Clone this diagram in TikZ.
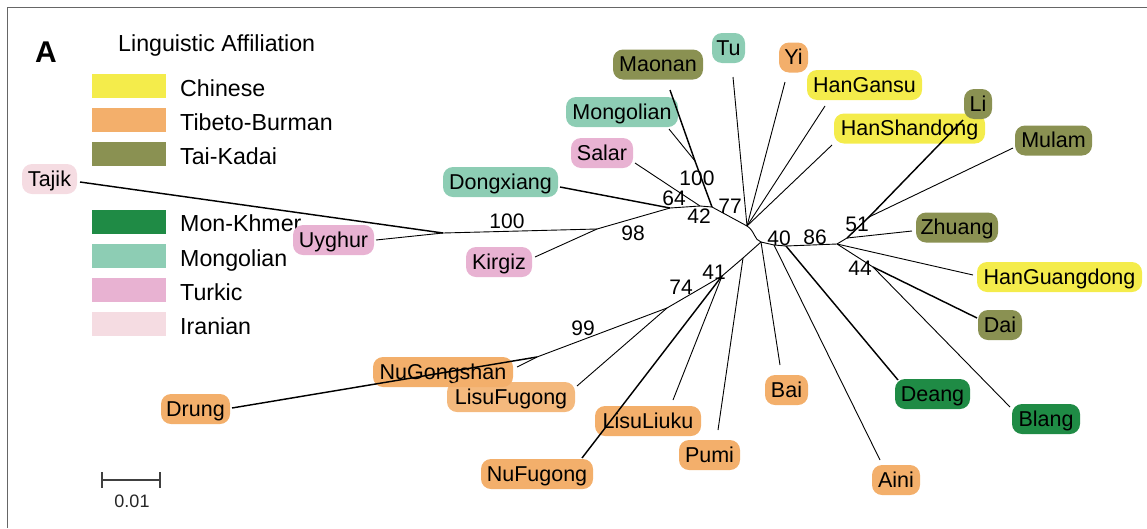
\documentclass[tikz,border=0pt]{standalone}
\usepackage{fontspec}
\usetikzlibrary{calc}
\setmainfont{Liberation Sans}
\definecolor{cCh}{HTML}{F4EC4B}
\definecolor{cTB}{HTML}{F3AF6B}
\definecolor{cTK}{HTML}{8A9152}
\definecolor{cMK}{HTML}{1F8B45}
\definecolor{cMo}{HTML}{8DCDB4}
\definecolor{cTu}{HTML}{E8B2D2}
\definecolor{cIr}{HTML}{F5DCE2}
\definecolor{frameGray}{HTML}{666666}
\newcommand\lblfont{\fontsize{21.5}{24}\selectfont}
\newcommand\bsfont{\fontsize{21}{24}\selectfont}
\newcommand\legfont{\fontsize{23.2}{26}\selectfont}
\begin{document}
\begin{tikzpicture}[x=1pt,y=-1pt,
 leaf/.style={rounded corners=10pt,minimum height=30pt,inner sep=0pt,text height=17pt,text depth=3pt,font=\lblfont},
 br/.style={line width=0.9pt},
 brt/.style={line width=1.45pt},
 bs/.style={anchor=base,font=\bsfont,inner sep=0pt},
 leg/.style={anchor=base west,font=\legfont,inner sep=0pt},
 sw/.style={minimum width=74pt,minimum height=24pt,inner sep=0pt}]
\useasboundingbox (0,0) rectangle (1147,528);
\draw[line width=1.5pt,frameGray] (7.5,528) -- (7.5,7.5) -- (1147,7.5);

% legend
\node[anchor=base west,inner sep=0pt,font=\fontsize{30}{32}\selectfont\bfseries] (lblA) at (35,62) {A};
\node[leg] (legT) at (118,51) {Linguistic Affiliation};
\node[sw,fill=cCh] (swCh) at (129,86) {};
\node[sw,fill=cTB] (swTB) at (129,120) {};
\node[sw,fill=cTK] (swTK) at (129,154) {};
\node[sw,fill=cMK] (swMK) at (129,221.5) {};
\node[sw,fill=cMo] (swMo) at (129,256) {};
\node[sw,fill=cTu] (swTu) at (129,290) {};
\node[sw,fill=cIr] (swIr) at (129,324) {};
\node[leg] (lgCh) at (180,96) {Chinese};
\node[leg] (lgTB) at (180,130) {Tibeto-Burman};
\node[leg] (lgTK) at (180,164) {Tai-Kadai};
\node[leg] (lgMK) at (180,231.5) {Mon-Khmer};
\node[leg] (lgMo) at (180,266) {Mongolian};
\node[leg] (lgTu) at (180,300) {Turkic};
\node[leg] (lgIr) at (180,334) {Iranian};

% leaves
\node[leaf,fill=cIr,minimum width=55pt] (Tajik) at (49.5,179) {Tajik};
\node[leaf,fill=cTu,minimum width=81pt] (Uyghur) at (333.5,240) {Uyghur};
\node[leaf,fill=cTu,minimum width=66pt] (Kirgiz) at (499,262) {Kirgiz};
\node[leaf,fill=cMo,minimum width=115pt] (Dongxiang) at (500.5,182) {Dongxiang};
\node[leaf,fill=cTu,minimum width=62pt] (Salar) at (602,153) {Salar};
\node[leaf,fill=cMo,minimum width=112pt] (Mongolian) at (622,112) {Mongolian};
\node[leaf,fill=cTK,minimum width=90pt] (Maonan) at (658,64.5) {Maonan};
\node[leaf,fill=cMo,minimum width=33pt] (Tu) at (728.5,48) {Tu};
\node[leaf,fill=cTB,minimum width=29pt] (Yi) at (793.5,57.5) {Yi};
\node[leaf,fill=cCh,minimum width=115pt] (HanGansu) at (864.5,85) {HanGansu};
\node[leaf,fill=cCh,minimum width=151pt] (HanShandong) at (909.5,128.5) {HanShandong};
\node[leaf,fill=cTK,minimum width=28pt] (Li) at (978,104) {Li};
\node[leaf,fill=cTK,minimum width=77pt] (Mulam) at (1053.5,140.5) {Mulam};
\node[leaf,fill=cTK,minimum width=82pt] (Zhuang) at (957,227.5) {Zhuang};
\node[leaf,fill=cCh,minimum width=165pt] (HanGuangdong) at (1059.5,277) {HanGuangdong};
\node[leaf,fill=cTK,minimum width=44pt] (Dai) at (1000,325) {Dai};
\node[leaf,fill=cMK,minimum width=68pt] (Blang) at (1046,419) {Blang};
\node[leaf,fill=cMK,minimum width=75pt] (Deang) at (932.5,394) {Deang};
\node[leaf,fill=cTB,minimum width=48pt] (Aini) at (896,480) {Aini};
\node[leaf,fill=cTB,minimum width=43pt] (Bai) at (786.5,390) {Bai};
\node[leaf,fill=cTB,minimum width=61pt] (Pumi) at (709.5,455) {Pumi};
\node[leaf,fill=cTB,minimum width=106pt] (LisuLiuku) at (648,421) {LisuLiuku};
\node[leaf,fill=cTB,minimum width=112pt] (NuFugong) at (537,474) {NuFugong};
\node[leaf,fill=cTB,minimum width=140pt] (NuGongshan) at (443,372) {NuGongshan};
\node[leaf,fill=cTB,fill opacity=0.88,text opacity=1,minimum width=128pt] (LisuFugong) at (511,397) {LisuFugong};
\node[leaf,fill=cTB,minimum width=69pt] (Drung) at (195.5,409) {Drung};

% tips
\coordinate (tTajik) at (80,182);
\coordinate (tUyghur) at (376,240);
\coordinate (tKirgiz) at (535,257);
\coordinate (tDongxiang) at (560,187);
\coordinate (tSalar) at (635,163);
\coordinate (tMongolian) at (669,129);
\coordinate (tMaonan) at (670,90);
\coordinate (tTu) at (733,77);
\coordinate (tYi) at (785,82);
\coordinate (tHanGansu) at (825,106);
\coordinate (tHanShandong) at (832,145);
\coordinate (tLi) at (963,120);
\coordinate (tMulam) at (1013,148);
\coordinate (tZhuang) at (912,231);
\coordinate (tHanGuangdong) at (973,275);
\coordinate (tDai) at (977,318);
\coordinate (tBlang) at (1010,407);
\coordinate (tDeang) at (898,380);
\coordinate (tAini) at (880,460);
\coordinate (tBai) at (780,365);
\coordinate (tPumi) at (718,430);
\coordinate (tLisuLiuku) at (673,400);
\coordinate (tNuFugong) at (582,458);
\coordinate (tLisuFugong) at (577,386);
\coordinate (tNuGongshan) at (517,367);
\coordinate (tDrung) at (232,408);

% internal nodes
\coordinate (nTU) at (443,233);
\coordinate (K) at (597,229);
\coordinate (D) at (670,208);
\coordinate (S) at (700,206);
\coordinate (M) at (712,207);
\coordinate (MM) at (695,161);
\coordinate (C1) at (747,226);
\coordinate (C2) at (761,242);
\coordinate (nA) at (774,245);
\coordinate (nD) at (786,246);
\coordinate (R) at (837,244);
\coordinate (n51) at (847,238);
\coordinate (nLM) at (869,217);
\coordinate (n44) at (873,267);
\coordinate (P) at (743,258);
\coordinate (n41) at (722,276);
\coordinate (n74) at (667,308);
\coordinate (n99) at (537,357);

% branches
\draw[brt] (nTU) -- (tTajik);
\draw[br] (nTU) -- (tUyghur);
\draw[br] (nTU) -- (K);
\draw[br] (K) -- (tKirgiz);
\draw[br] (K) -- (D);
\draw[brt] (D) -- (tDongxiang);
\draw[br] (D) -- (S) -- (M);
\draw[br] (S) -- (tSalar);
\draw[brt] (M) -- (MM) -- (tMaonan);
\draw[br] (MM) -- (tMongolian);
\draw[br] (M) -- (C1);
\draw[br] (C1) -- (tTu);
\draw[br] (C1) -- (tYi);
\draw[br] (C1) -- (tHanGansu);
\draw[br] (C1) -- (tHanShandong);
\draw[br] (C1) .. controls (755,231) and (754,240) .. (C2);
\draw[br] (C2) -- (nA) -- (nD) -- (R);
\draw[br] (nA) -- (tAini);
\draw[brt] (nD) -- (tDeang);
\draw[br] (C2) -- (tBai);
\draw[br] (R) -- (n51);
\draw[brt] (n51) -- (nLM) -- (tLi);
\draw[br] (nLM) -- (tMulam);
\draw[br] (n51) -- (tZhuang);
\draw[br] (R) -- (tHanGuangdong);
\draw[br] (R) -- (n44);
\draw[brt] (n44) -- (tDai);
\draw[br] (n44) -- (tBlang);
\draw[br] (C2) -- (P) -- (n41);
\draw[br] (P) -- (tPumi);
\draw[br] (n41) -- (tLisuLiuku);
\draw[brt] (n41) -- (tNuFugong);
\draw[br] (n41) -- (n74);
\draw[br] (n74) -- (tLisuFugong);
\draw[br] (n74) -- (n99);
\draw[br] (n99) -- (tNuGongshan);
\draw[brt] (n99) -- (tDrung);

% bootstrap values
\node[bs] (b100a) at (507,228) {100};
\node[bs] (b98) at (633,240) {98};
\node[bs] (b64) at (674,205) {64};
\node[bs] (b42) at (699,223) {42};
\node[bs] (b100b) at (697,185) {100};
\node[bs] (b77) at (730,213) {77};
\node[bs] (b40) at (779,245) {40};
\node[bs] (b86) at (815,244) {86};
\node[bs] (b51) at (857,231) {51};
\node[bs] (b44) at (860,275) {44};
\node[bs] (b41) at (714,279) {41};
\node[bs] (b74) at (681,294) {74};
\node[bs] (b99) at (583,335) {99};

% scale bar
\coordinate (sb1) at (102,480);
\coordinate (sb2) at (160,480);
\draw[line width=1.1pt,black!75] (sb1) -- (sb2);
\draw[line width=1.1pt,black!75] ($(sb1)+(0,-8)$) -- ($(sb1)+(0,8)$);
\draw[line width=1.1pt,black!75] ($(sb2)+(0,-8)$) -- ($(sb2)+(0,8)$);
\node[anchor=base,inner sep=0pt,font=\fontsize{18}{20}\selectfont,black!85] (sbl) at (132,507) {0.01};
\end{tikzpicture}
\end{document}
